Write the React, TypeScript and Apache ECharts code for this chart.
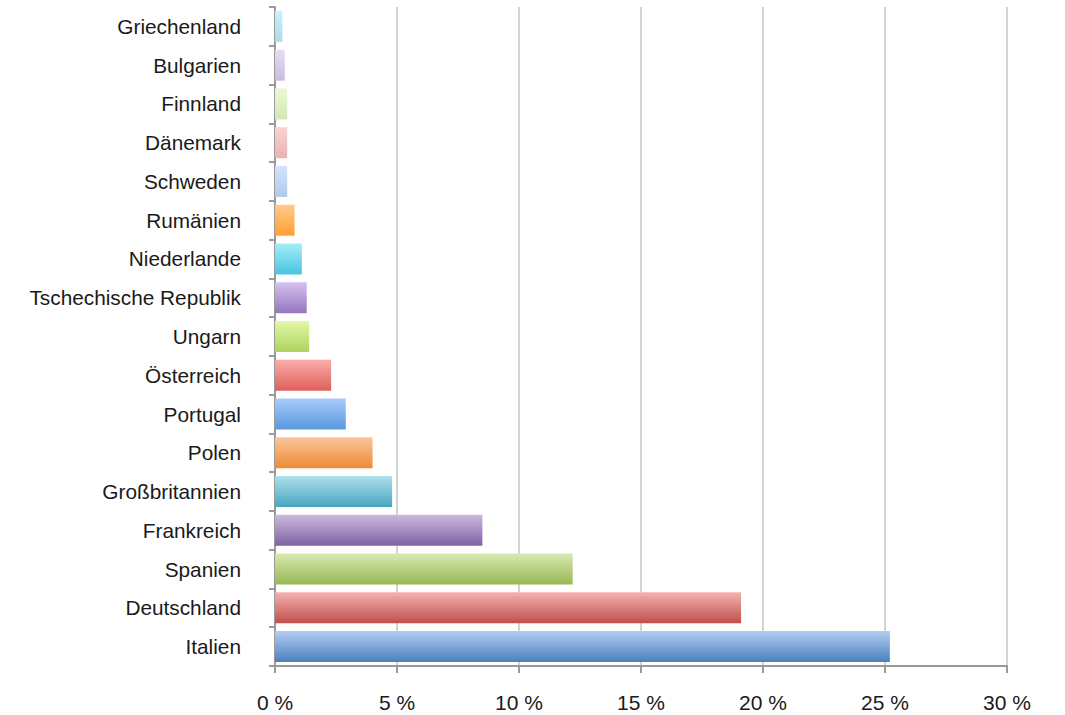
import React, { useEffect, useRef } from "react";
import * as echarts from "echarts";

const categories = [
  "Italien", "Deutschland", "Spanien", "Frankreich", "Großbritannien", "Polen",
  "Portugal", "Österreich", "Ungarn", "Tschechische Republik", "Niederlande", "Rumänien",
  "Schweden", "Dänemark", "Finnland", "Bulgarien", "Griechenland",
];
const shares = [25.2, 19.1, 12.2, 8.5, 4.8, 4.0, 2.9, 2.3, 1.4, 1.3, 1.1, 0.8, 0.5, 0.5, 0.5, 0.4, 0.3];
const xTicks = [0, 5, 10, 15, 20, 25, 30];

const topColors = [
  "#b2cdf1", "#f3b2b0", "#d8e9b2", "#cbb9e0", "#aee0ec", "#fbc59a",
  "#a8ccfb", "#fbadaa", "#e3f8a9", "#d5c2f0", "#a3eefb", "#ffca88",
  "#d4e3fb", "#fbd3d2", "#edf8d3", "#e6def4", "#cbf1fb",
];
const bottomColors = [
  "#4a80bd", "#bf4f4b", "#97b852", "#7e62a0", "#46a6c0", "#ec8b37",
  "#5898de", "#de5f59", "#aed35e", "#9576be", "#46c5de", "#ff9f33",
  "#b1c9ec", "#e8b2b1", "#d3e8b5", "#c9bbe2", "#a8dbe8",
];

export default function App() {
  const ref = useRef<HTMLDivElement>(null);
  useEffect(() => {
    const chart = echarts.init(ref.current!, null, { renderer: "svg" });
    chart.setOption({
      animation: false,
      grid: { left: 275, right: 58, top: 7, bottom: 49 },
      xAxis: {
        type: "value",
        min: xTicks[0],
        max: xTicks[xTicks.length - 1],
        interval: 5,
        axisLine: { show: true, lineStyle: { color: "#9a9a9a", width: 2 } },
        axisTick: { show: true, length: 7, lineStyle: { color: "#9a9a9a", width: 2 } },
        splitLine: { show: true, lineStyle: { color: "#c4c4c4", width: 1.5 } },
        axisLabel: {
          margin: 26,
          fontSize: 21,
          color: "#1a1a1a",
          fontFamily: "Liberation Sans, Arial, sans-serif",
          formatter: (v: number) => `${v} %`,
        },
      },
      yAxis: {
        type: "category",
        data: categories,
        axisLine: { show: true, lineStyle: { color: "#9a9a9a", width: 2 } },
        axisTick: { show: true, inside: false, length: 6, lineStyle: { color: "#9a9a9a", width: 2 } },
        axisLabel: {
          margin: 34,
          fontSize: 20.8,
          color: "#1a1a1a",
          fontFamily: "Liberation Sans, Arial, sans-serif",
        },
      },
      series: [
        {
          type: "bar",
          barCategoryGap: "20%",
          data: shares.map((v, i) => ({
            value: v,
            itemStyle: {
              color: new echarts.graphic.LinearGradient(0, 0, 0, 1, [
                { offset: 0, color: topColors[i] },
                { offset: 1, color: bottomColors[i] },
              ]),
            },
          })),
        },
      ],
    });
    return () => chart.dispose();
  }, []);
  return (
    <div
      ref={ref}
      style={{ position: "fixed", left: 0, top: 0, width: 1065, height: 715, background: "#fff" }}
    />
  );
}
